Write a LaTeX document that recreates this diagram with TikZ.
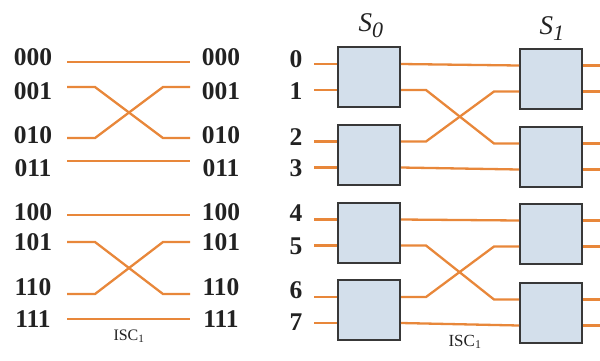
\documentclass[tikz,border=0pt]{standalone}
\usepackage{fontspec}
\setmainfont{Liberation Serif}
\usetikzlibrary{calc}
\definecolor{wire}{HTML}{E8873A}
\definecolor{boxfill}{HTML}{D3DFEB}
\definecolor{ink}{HTML}{222222}
\tikzset{
  wireline/.style={draw=wire, line width=2.3pt},
  addr/.style={font=\fontsize{25.5}{25.5}\selectfont\bfseries, text=ink, inner sep=0pt},
  swbox/.style={draw=ink!90, line width=2pt, fill=boxfill, minimum width=62pt, minimum height=60pt, inner sep=0pt},
  stage/.style={font=\fontsize{27}{27}\selectfont\itshape, text=ink, inner sep=0pt},
  caption/.style={text=ink, inner sep=0pt}
}
\begin{document}
\begin{tikzpicture}[x=1pt, y=-1pt]
\useasboundingbox (0,0) rectangle (600,360);

% ---------- left panel: address permutation ----------
\foreach \lab/\ly/\wy in {000/57/62, 001/91/87, 010/135/138, 011/168/161,
                          100/212/215, 101/242/242, 110/287/294, 111/319/319} {
  \node[addr] (L\lab) at (33,\ly) {\lab};
  \node[addr] (R\lab) at (221,\ly) {\lab};
  \coordinate (l\lab) at (67,\wy);
  \coordinate (r\lab) at (190,\wy);
}
\draw[wireline] (l000) -- (r000);
\draw[wireline] (l011) -- (r011);
\draw[wireline] (l100) -- (r100);
\draw[wireline] (l111) -- (r111);
\draw[wireline] (l001) -- ++(28,0) -- ($(r010)+(-27,0)$) -- (r010);
\draw[wireline] (l010) -- ++(28,0) -- ($(r001)+(-27,0)$) -- (r001);
\draw[wireline] (l101) -- ++(28,0) -- ($(r110)+(-27,0)$) -- (r110);
\draw[wireline] (l110) -- ++(28,0) -- ($(r101)+(-27,0)$) -- (r101);
\node[caption, font=\fontsize{16}{16}\selectfont] (iscA) at (129,336) {ISC\textsubscript{1}};

% ---------- right panel: two switch stages ----------
\node[stage] (s0) at (371,26) {S\textsubscript{\fontsize{22}{22}\selectfont 0}};
\node[stage] (s1) at (552,29) {S\textsubscript{\fontsize{22}{22}\selectfont 1}};

\node[swbox] (a0) at (369,77) {};
\node[swbox] (a1) at (369,154.5) {};
\node[swbox] (a2) at (369,232.5) {};
\node[swbox] (a3) at (369,310) {};
\node[swbox] (b0) at (551,78.5) {};
\node[swbox] (b1) at (551,156.5) {};
\node[swbox] (b2) at (551,233.5) {};
\node[swbox] (b3) at (551,312.5) {};

% ports of every switch
\foreach \s in {a0,a1,a2,a3,b0,b1,b2,b3} {
  \coordinate (\s iu) at ($(\s.west)+(0,-13)$);
  \coordinate (\s id) at ($(\s.west)+(0,13)$);
  \coordinate (\s ou) at ($(\s.east)+(0,-13)$);
  \coordinate (\s od) at ($(\s.east)+(0,13)$);
}

% input numbers and stubs
\foreach \n/\ny/\p in {0/59/a0iu, 1/91/a0id, 2/137/a1iu, 3/168/a1id,
                       4/213/a2iu, 5/246/a2id, 6/290/a3iu, 7/322/a3id} {
  \node[addr] (n\n) at (296,\ny) {\n};
  \coordinate (in\n) at ($(\p)+(-23,0)$);
  \draw[wireline] (in\n) -- (\p);
}

% output stubs
\foreach \p in {b0ou,b0od,b1ou,b1od,b2ou,b2od,b3ou,b3od} {
  \coordinate (out\p) at ($(\p)+(20,0)$);
  \draw[wireline] (\p) -- (out\p);
}

% connections between the stages
\draw[wireline] (a0ou) -- (b0iu);
\draw[wireline] (a1od) -- (b1id);
\draw[wireline] (a2ou) -- (b2iu);
\draw[wireline] (a3od) -- (b3id);
\draw[wireline] (a0od) -- ++(25,0) -- ($(b1iu)+(-25,0)$) -- (b1iu);
\draw[wireline] (a1ou) -- ++(25,0) -- ($(b0id)+(-25,0)$) -- (b0id);
\draw[wireline] (a2od) -- ++(25,0) -- ($(b3iu)+(-25,0)$) -- (b3iu);
\draw[wireline] (a3ou) -- ++(25,0) -- ($(b2id)+(-25,0)$) -- (b2id);

\node[caption, font=\fontsize{17}{17}\selectfont] (iscB) at (465,342) {ISC\textsubscript{1}};
\end{tikzpicture}
\end{document}
